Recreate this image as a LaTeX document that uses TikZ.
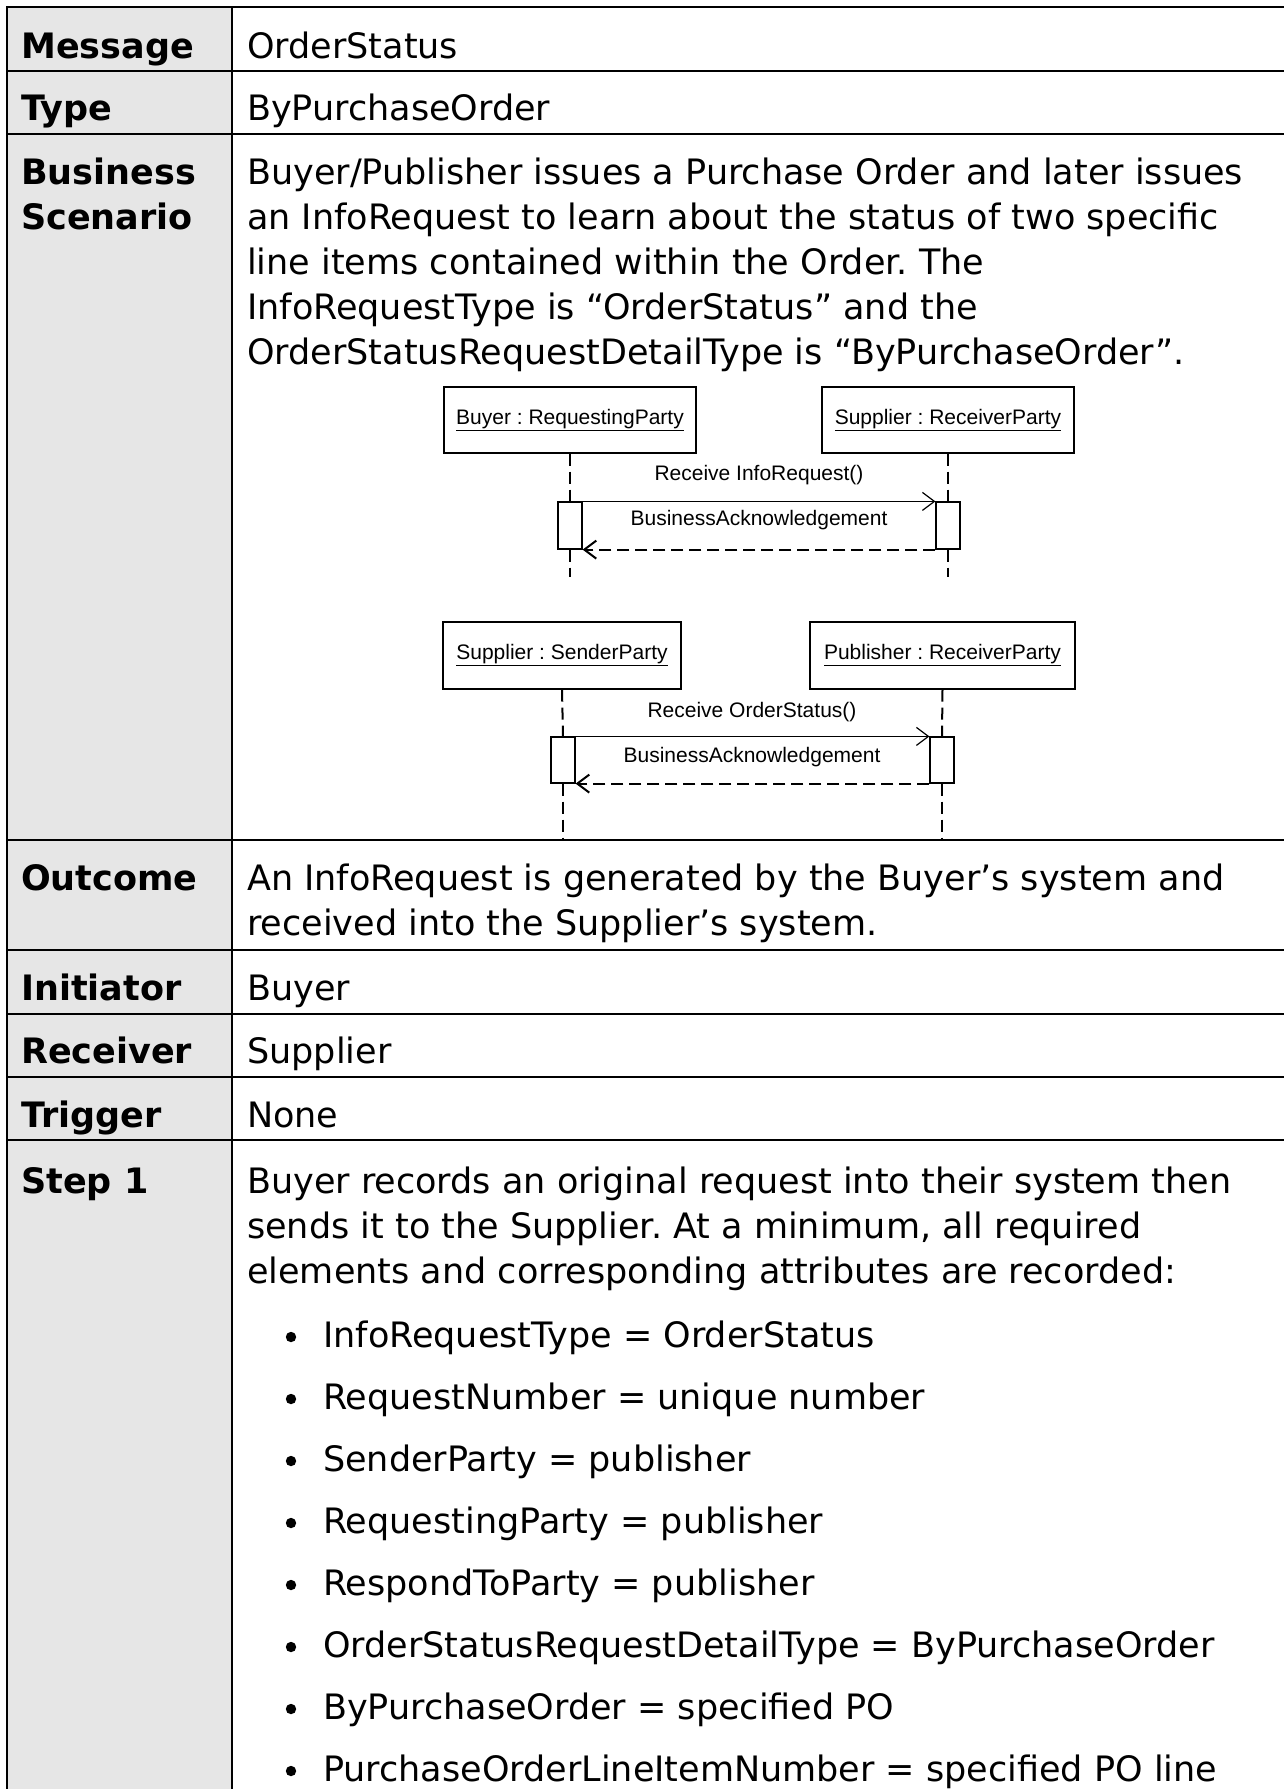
\documentclass[tikz,border=0pt]{standalone}
\usepackage{fontspec}
\setmainfont{DejaVu Sans}
\newfontfamily\umlfont{Liberation Sans}
\usetikzlibrary{positioning}
\usetikzlibrary{arrows.meta}
\definecolor{cellgray}{RGB}{230,230,230}
\frenchspacing

\begin{document}
\begin{tikzpicture}[x=1pt, y=-1pt,
    lbl/.style={anchor=base west, inner sep=0pt, font=\fontsize{35}{45}\selectfont\bfseries},
    txt/.style={anchor=base west, inner sep=0pt, font=\fontsize{35}{45}\selectfont},
    party/.style={draw, line width=1.2pt, minimum width=252pt, minimum height=66pt, inner sep=0pt, font=\fontsize{21}{25}\selectfont\umlfont},
    act/.style={draw, line width=1.2pt, fill=white, minimum width=24pt, minimum height=47pt, inner sep=0pt},
    life/.style={line width=2pt, dash pattern=on 12pt off 6pt},
    msg/.style={line width=1.2pt, -{Straight Barb[length=12pt, width=18pt]}},
    msglbl/.style={anchor=base, inner sep=0pt, font=\fontsize{21}{25}\selectfont\umlfont}]
  \useasboundingbox (0,0) rectangle (1284,1789);

  % table grid
  \fill[cellgray] (7,7) rectangle (232,1789);
  \draw[line width=2.2pt] (7,1789) -- (7,7) -- (1284,7);
  \draw[line width=2.2pt] (232,7) -- (232,1789);
  \foreach \y in {71,134,840,950,1014,1077,1140}
    \draw[line width=2.2pt] (7,\y) -- (1284,\y);

  % left column
  \node[lbl] (message) at (21,58) {Message};
  \node[lbl] (type) at (21,120) {Type};
  \node[lbl] (business) at (21,184) {Business};
  \node[lbl] (scenario) at (21,229) {Scenario};
  \node[lbl] (outcome) at (21,890) {Outcome};
  \node[lbl] (initiator) at (21,1000) {Initiator};
  \node[lbl] (receiver) at (21,1063) {Receiver};
  \node[lbl] (trigger) at (21,1127) {Trigger};
  \node[lbl] (step) at (21,1193) {Step 1};

  % right column
  \node[txt] (msgval) at (247,58) {OrderStatus};
  \node[txt] (typeval) at (247,120) {ByPurchaseOrder};
  \foreach \t [count=\i from 0] in {Buyer/Publisher issues a Purchase Order and later issues,
      an InfoRequest to learn about the status of two specific,
      line items contained within the Order. The,
      InfoRequestType is “OrderStatus” and the,
      OrderStatusRequestDetailType is “ByPurchaseOrder”.}
    \node[txt] (scen\i) at (247,184+45*\i) {\t};
  \node[txt] (out0) at (247,890) {An InfoRequest is generated by the Buyer’s system and};
  \node[txt] (out1) at (247,935) {received into the Supplier’s system.};
  \node[txt] (initval) at (247,1000) {Buyer};
  \node[txt] (recval) at (247,1063) {Supplier};
  \node[txt] (trigval) at (247,1127) {None};
  \foreach \t [count=\i from 0] in {Buyer records an original request into their system then,
      {sends it to the Supplier. At a minimum, all required},
      elements and corresponding attributes are recorded:}
    \node[txt] (stepline\i) at (247,1193+45*\i) {\t};
  \foreach \t [count=\i from 0] in {InfoRequestType = OrderStatus,
      RequestNumber = unique number,
      SenderParty = publisher,
      RequestingParty = publisher,
      RespondToParty = publisher,
      OrderStatusRequestDetailType = ByPurchaseOrder,
      ByPurchaseOrder = specified PO,
      PurchaseOrderLineItemNumber = specified PO line}
  {
    \fill (291,1337+62*\i) circle (5.2);
    \node[txt] (item\i) at (323,1347+62*\i) {\t};
  }

  % first sequence
  \node[party] (buyer) at (570,420) {\underline{Buyer : RequestingParty}};
  \node[party] (supplier) at (948,420) {\underline{Supplier : ReceiverParty}};
  \node[act] (buyeract) at (570,525.5) {};
  \node[act] (supplieract) at (948,525.5) {};
  \coordinate (buyerend) at (570,577);
  \coordinate (supplierend) at (948,577);
  \draw[life] (buyer.south) -- (buyeract.north);
  \draw[life] (buyeract.south) -- (buyerend);
  \draw[life] (supplier.south) -- (supplieract.north);
  \draw[life] (supplieract.south) -- (supplierend);
  \draw[msg] (buyeract.north east) -- (supplieract.north west);
  \draw[msg, life] (supplieract.south west) -- (buyeract.south east);
  \node[msglbl] (inforeq) at (759,480) {Receive InfoRequest()};
  \node[msglbl] (ack1) at (759,525) {BusinessAcknowledgement};

  % second sequence
  \node[party, minimum width=238pt, minimum height=67pt] (sender) at (562,655.5) {\underline{Supplier : SenderParty}};
  \node[party, minimum width=265pt, minimum height=67pt] (publisher) at (942.5,655.5) {\underline{Publisher : ReceiverParty}};
  \node[act, minimum height=46pt] (senderact) at (563,760) {};
  \node[act, minimum height=46pt] (publisheract) at (942,760) {};
  \coordinate (senderend) at (563,840);
  \coordinate (publisherend) at (942,840);
  \draw[life] (sender.south) -- (senderact.north);
  \draw[life] (senderact.south) -- (senderend);
  \draw[life] (publisher.south) -- (publisheract.north);
  \draw[life] (publisheract.south) -- (publisherend);
  \draw[msg] (senderact.north east) -- (publisheract.north west);
  \draw[msg, life] (publisheract.south west) -- (senderact.south east);
  \node[msglbl] (ordstat) at (752,717) {Receive OrderStatus()};
  \node[msglbl] (ack2) at (752,762) {BusinessAcknowledgement};
\end{tikzpicture}
\end{document}
